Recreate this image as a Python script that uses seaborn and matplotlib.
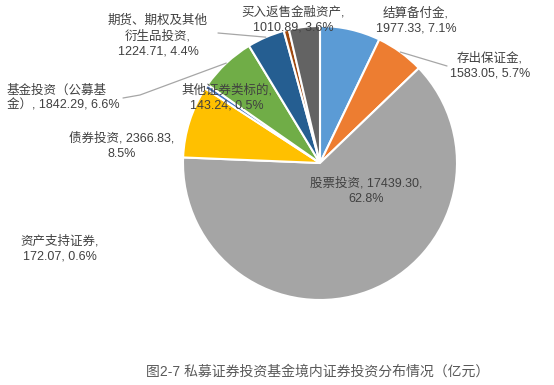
import numpy as np
import seaborn as sns
import matplotlib.pyplot as plt

# Data (亿元), clockwise from 12 o'clock
categories = ["结算备付金", "存出保证金", "股票投资", "债券投资", "其他证券类标的",
              "基金投资（公募基金）", "期货、期权及其他衍生品投资", "资产支持证券", "买入返售金融资产"]
values = [1977.33, 1583.05, 17439.30, 2366.83, 143.24, 1842.29, 1224.71, 172.07, 1010.89]
percents = ["7.1%", "5.7%", "62.8%", "8.5%", "0.5%", "6.6%", "4.4%", "0.6%", "3.6%"]
colors = ["#5B9BD5", "#ED7D31", "#A5A5A5", "#FFC000", "#4472C4",
          "#70AD47", "#255E91", "#9E480E", "#636363"]

# label text layout (line breaks as in the original)
label_texts = [
    "结算备付金,\n{v}, {p}",
    "存出保证金,\n{v}, {p}",
    "股票投资, {v},\n{p}",
    "债券投资, {v},\n{p}",
    "其他证券类标的,\n{v}, {p}",
    "基金投资（公募基\n金）, {v}, {p}",
    "期货、期权及其他\n衍生品投资,\n{v}, {p}",
    "资产支持证券,\n{v}, {p}",
    "买入返售金融资产,\n{v}, {p}",
]
# label centres in pixels (from top-left of the 554x385 image)
label_pos = [(416, 21), (490, 66), (366, 191), (122, 146), (227, 98),
             (62, 98), (158, 36), (60, 249), (293, 20)]
label_align = ["center", "center", "center", "center", "center",
               "left", "center", "center", "center"]
# leader lines: slice index -> intermediate/end points in pixels
leaders = {1: [(447, 66)], 5: [(140, 95), (123, 98)], 6: [(218, 33)]}

sns.set_theme(style="white")
plt.rcParams['font.family'] = ['Liberation Sans', 'Noto Sans CJK SC', 'DejaVu Sans']

W, H = 554, 385
fig = plt.figure(figsize=(W / 100, H / 100), dpi=100)
cx, cy, r = 320, 163, 137
ax = fig.add_axes([(cx - r) / W, (H - cy - r) / H, 2 * r / W, 2 * r / H])

wedges, _ = ax.pie(values, colors=colors, startangle=90, counterclock=False,
                   radius=1.0, wedgeprops=dict(edgecolor="white", linewidth=1.5))
ax.set_xlim(-1, 1)
ax.set_ylim(-1, 1)
ax.set_aspect("equal")
ax.axis("off")


def px(x, y):
    return x / W, 1 - y / H


txt_color = "#404040"
for i, (tpl, (x, y)) in enumerate(zip(label_texts, label_pos)):
    s = tpl.format(v=f"{values[i]:.2f}", p=percents[i])
    if label_align[i] == "left":
        fx, fy = px(7, y)
    else:
        fx, fy = px(x, y)
    fig.text(fx, fy, s, ha=label_align[i], va="center", fontsize=9,
             color=txt_color, linespacing=1.35, multialignment="center"
             if label_align[i] == "center" else "left")

# leader lines from slice mid-angle edge
for i, pts in leaders.items():
    w = wedges[i]
    ang = np.deg2rad((w.theta1 + w.theta2) / 2)
    sx, sy = np.cos(ang), np.sin(ang)
    disp = ax.transData.transform((sx, sy))
    start = fig.transFigure.inverted().transform(disp)
    xs = [start[0]] + [px(*p)[0] for p in pts]
    ys = [start[1]] + [px(*p)[1] for p in pts]
    fig.add_artist(plt.Line2D(xs, ys, color="#A6A6A6", linewidth=0.9,
                              transform=fig.transFigure))

fig.text(318 / W, 1 - 372 / H, "图2-7 私募证券投资基金境内证券投资分布情况（亿元）",
         ha="center", va="center", fontsize=10, color="#595959")

fig.savefig("out.png", dpi=100)
